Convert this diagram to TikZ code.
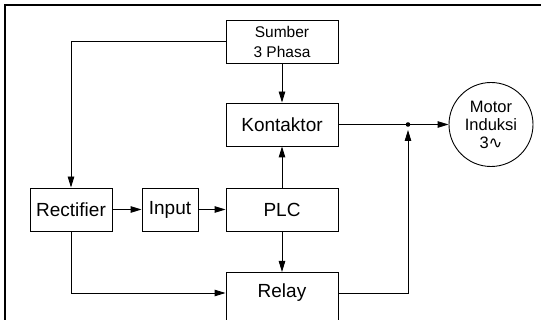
\documentclass[tikz,border=0pt]{standalone}
\usepackage{fontspec}
\setmainfont{Liberation Sans}
\newfontfamily\symfont{DejaVu Sans}
\usetikzlibrary{arrows.meta,calc}
\begin{document}
\begin{tikzpicture}[x=1pt,y=-1pt,
  box/.style={draw, line width=0.9pt, inner sep=0pt, minimum height=43pt, font=\fontsize{19}{22}\selectfont},
  conn/.style={line width=0.9pt},
  arr/.style={conn, -{Triangle[length=11pt,width=6.5pt]}}]
\useasboundingbox (0,0) rectangle (541,320);
\clip (0,0) rectangle (541,320);
\draw[line width=2pt] (5,5) rectangle (600,400);
\node[box, minimum width=112pt, align=center, font=\fontsize{15.5}{20}\selectfont] (sumber) at (282,41.5) {Sumber\\3 Phasa};
\node[box, minimum width=112pt] (kontaktor) at (282,124.5) {Kontaktor};
\node[box, minimum width=82pt] (rect) at (71,209.5) {Rectifier};
\node[box, minimum width=56pt] (input) at (170,209.5) {Input};
\node[box, minimum width=112pt] (plc) at (282,209.5) {PLC};
\node[draw, line width=0.9pt, minimum width=112pt, minimum height=100pt, inner sep=0pt, anchor=north] (relaybox) at (282,272) {};
\node[font=\fontsize{19}{22}\selectfont, inner sep=0pt] (relay) at (282,293) {Relay};
\node[draw, circle, line width=0.9pt, minimum size=84pt, inner sep=0pt, align=center, font=\fontsize{16.5}{18}\selectfont] (motor) at (491,124.5) {Motor\\Induksi\\3{\symfont ∿}};
\coordinate (j) at (408,124.5);
\coordinate (rl) at (relaybox.west |- relay.center);
\coordinate (rr) at (relaybox.east |- relay.center);
\draw[arr] (sumber.west) -| (rect.north);
\draw[arr] (sumber) -- (kontaktor);
\draw[arr] (plc) -- (kontaktor);
\draw[arr] (plc) -- (relaybox.north);
\draw[arr] (rect) -- (input);
\draw[arr] (input) -- (plc);
\draw[arr] (rect.south) |- (rl);
\draw[arr] (kontaktor) -- (motor);
\draw[arr, shorten >=5.5pt] (rr) -| (j);
\fill (j) circle (2.3pt);
\end{tikzpicture}
\end{document}
